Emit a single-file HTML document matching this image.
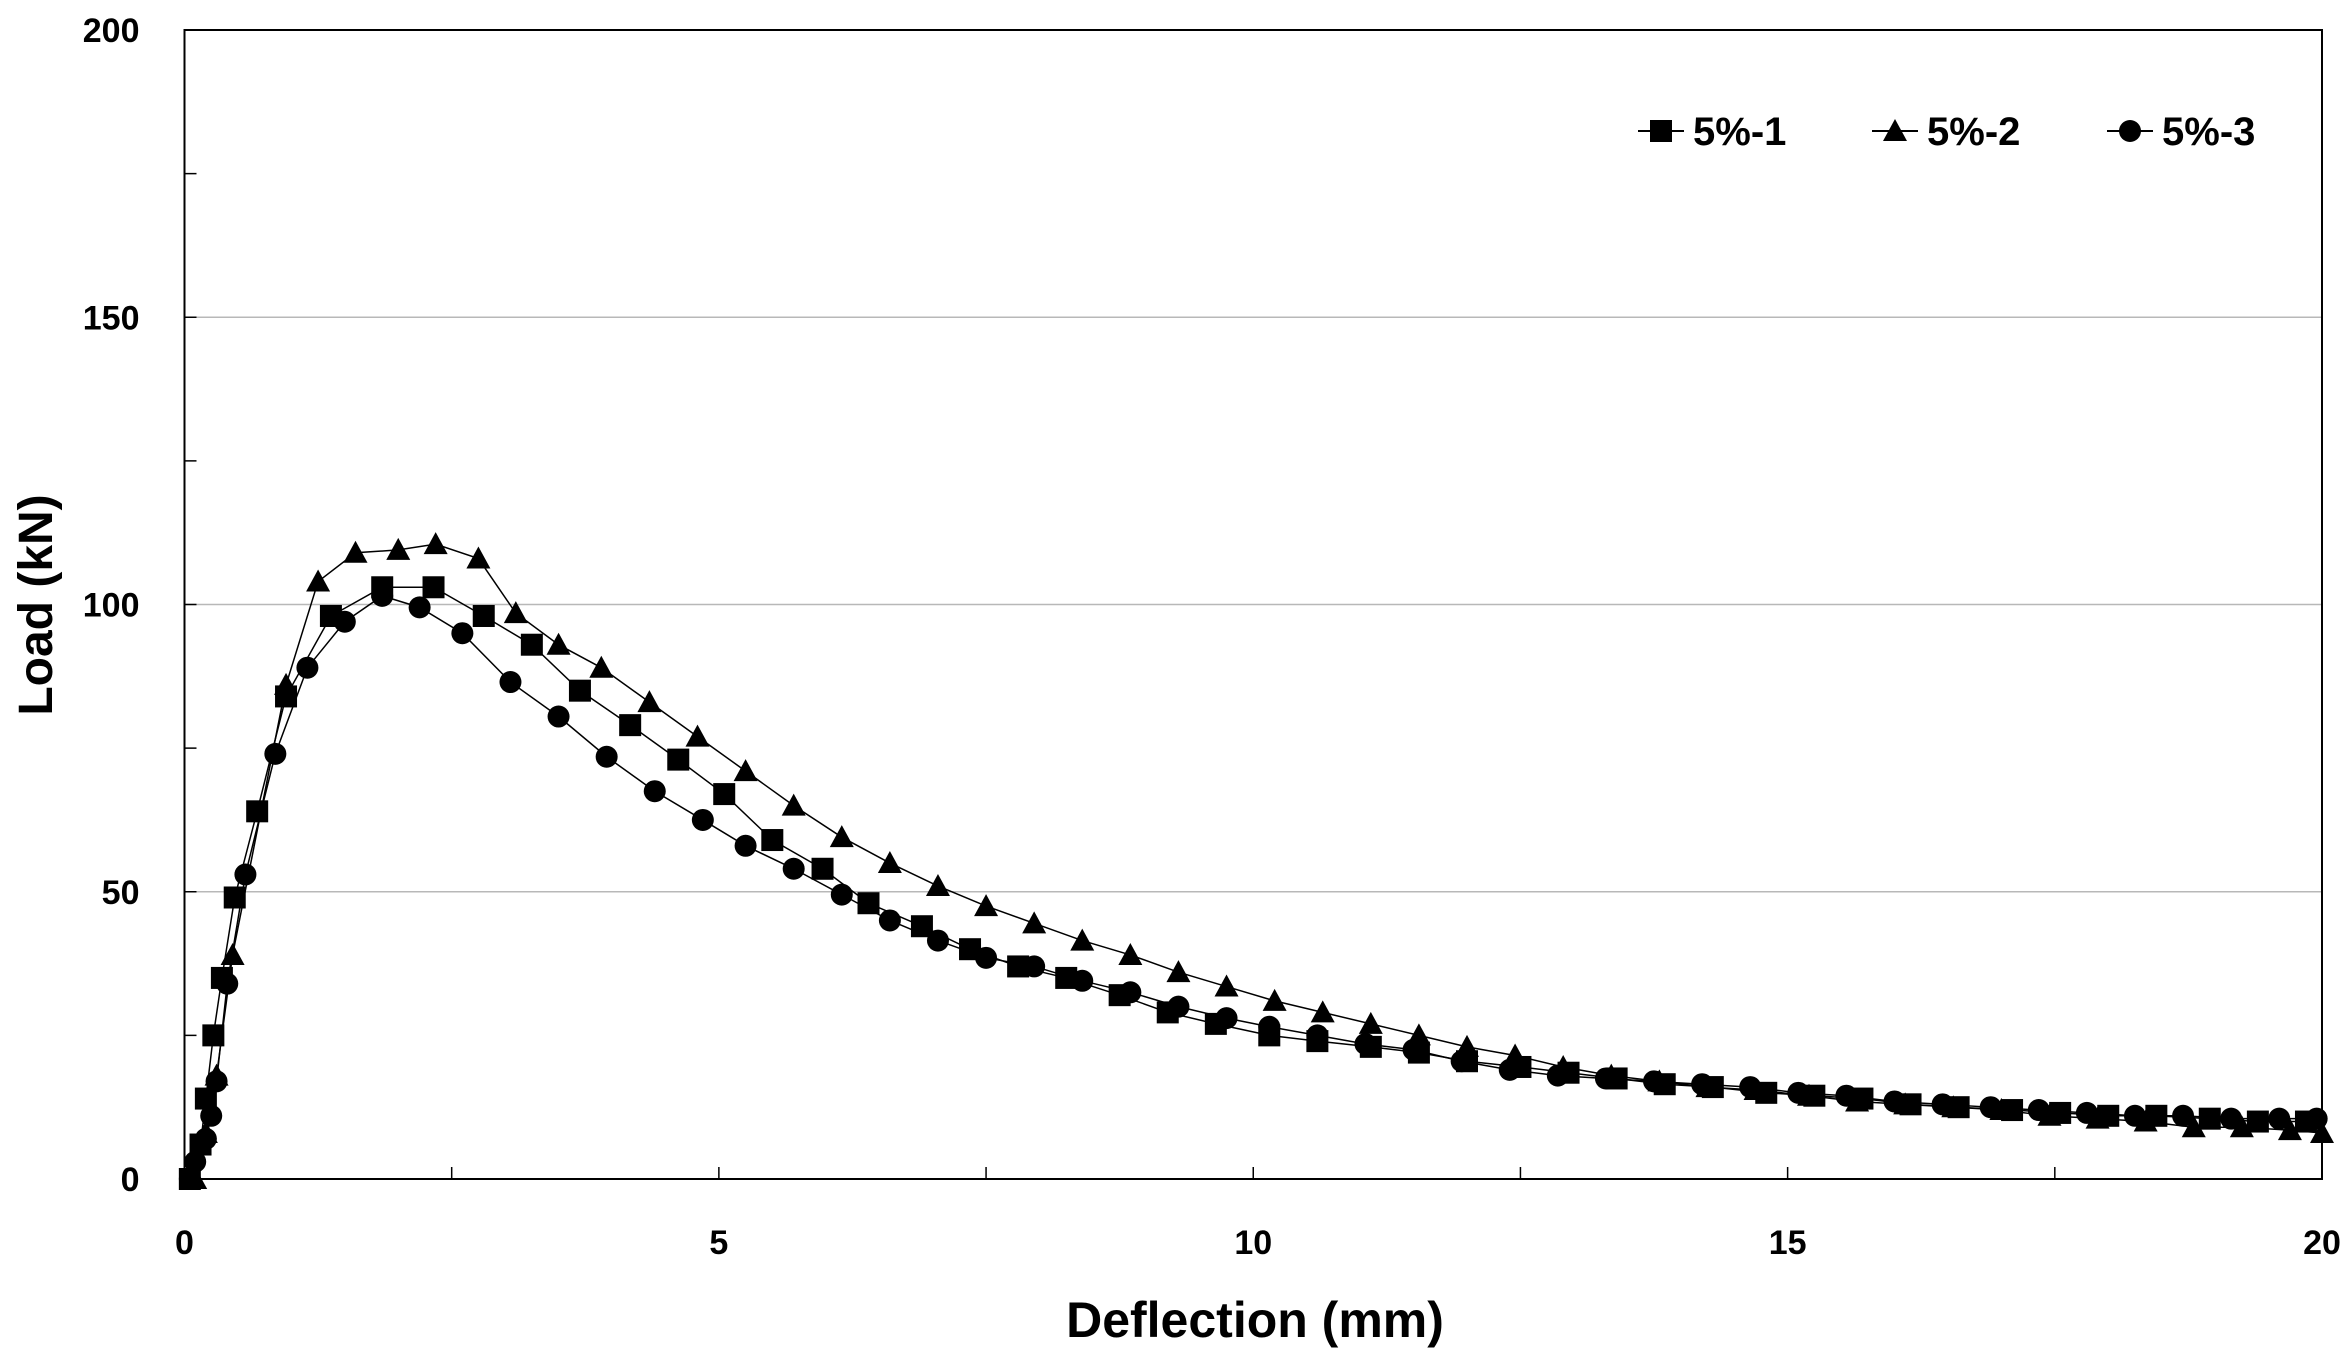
<!DOCTYPE html>
<html><head><meta charset="utf-8"><style>
html,body{margin:0;padding:0;background:#fff;}
svg{display:block;font-family:"Liberation Sans",sans-serif;}
</style></head><body>
<svg id="chart" width="2352" height="1365" viewBox="0 0 2352 1365" xmlns="http://www.w3.org/2000/svg"></svg>
<script>
const xTicks = [0, 5, 10, 15, 20];
const yTicks = [0, 50, 100, 150, 200];
const seriesNames = ["5%-1", "5%-2", "5%-3"];
const s1x = [0.05,0.15,0.2,0.27,0.35,0.47,0.68,0.95,1.37,1.85,2.33,2.8,3.25,3.7,4.17,4.62,5.05,5.5,5.97,6.4,6.9,7.35,7.8,8.25,8.75,9.2,9.65,10.15,10.6,11.1,11.55,12.0,12.5,12.95,13.4,13.85,14.3,14.8,15.25,15.7,16.15,16.6,17.1,17.55,18.0,18.45,18.95,19.4,19.85];
const s1y = [0,6,14,25,35,49,64,84,98,103,103,98,93,85,79,73,67,59,54,48,44,40,37,35,32,29,27,25,24,23,22,20.5,19.5,18.5,17.5,16.5,16,15,14.5,14,13,12.5,12,11.5,11,11,10.5,10,10];
const s2x = [0.1,0.2,0.3,0.45,0.95,1.25,1.6,2.0,2.35,2.75,3.1,3.5,3.9,4.35,4.8,5.25,5.7,6.15,6.6,7.05,7.5,7.95,8.4,8.85,9.3,9.75,10.2,10.65,11.1,11.55,12.0,12.45,12.9,13.35,13.8,14.25,14.7,15.2,15.65,16.1,16.55,17.0,17.45,17.9,18.35,18.8,19.25,19.7,20.0];
const s2y = [0,8,18,39,86,104,109,109.5,110.5,108,98.5,93,89,83,77,71,65,59.5,55,51,47.5,44.5,41.5,39,36,33.5,31,29,27,25,23,21.5,19.5,18,17,16,15.5,14.5,13.5,13,12.5,12,11,10.5,10,9,9,8.5,8];
const s3x = [0.05,0.1,0.2,0.25,0.3,0.4,0.57,0.85,1.15,1.5,1.85,2.2,2.6,3.05,3.5,3.95,4.4,4.85,5.25,5.7,6.15,6.6,7.05,7.5,7.95,8.4,8.85,9.3,9.75,10.15,10.6,11.05,11.5,11.95,12.4,12.85,13.3,13.75,14.2,14.65,15.1,15.55,16.0,16.45,16.9,17.35,17.8,18.25,18.7,19.15,19.6,19.95];
const s3y = [0,3,7,11,17,34,53,74,89,97,101.5,99.5,95,86.5,80.5,73.5,67.5,62.5,58,54,49.5,45,41.5,38.5,37,34.5,32.5,30,28,26.5,25,23.5,22.5,20.5,19,18,17.5,17,16.5,16,15,14.5,13.5,13,12.5,12,11.5,11,11,10.5,10.5,10.5];

const NS="http://www.w3.org/2000/svg";
const svg=document.getElementById('chart');
const L=184.5,R=2322,T=30,B=1179;
const sx=v=>L+(v-0)/(20-0)*(R-L);
const sy=v=>B-(v-0)/(200-0)*(B-T);
function mk(tag,attrs,parent){const e=document.createElementNS(NS,tag);for(const k in attrs)e.setAttribute(k,attrs[k]);(parent||svg).appendChild(e);return e;}

// gridlines
[50,100,150].forEach(v=>{
  const g=mk('line',{x1:L,x2:R,y1:sy(v),y2:sy(v),stroke:'#b8b8b8','stroke-width':1.5});
  
  
});
// minor y ticks
[25,75,125,175,50,100,150].forEach(v=>{
  const t=mk('line',{x1:L,x2:L+12,y1:sy(v),y2:sy(v),stroke:'#000','stroke-width':1.5});
  
  
});
[2.5,5,7.5,10,12.5,15,17.5].forEach(v=>{
  const t=mk('line',{x1:sx(v),x2:sx(v),y1:B,y2:B-12,stroke:'#000','stroke-width':1.5});
  
  
});
const frame=mk('rect',{x:L,y:T,width:R-L,height:B-T,fill:'none',stroke:'#000','stroke-width':2});



yTicks.forEach(v=>{
  const t=mk('text',{x:L-45,y:sy(v)+12,'text-anchor':'end','font-size':34,'font-weight':'bold'});
  t.textContent=v;
  
  
});
xTicks.forEach(v=>{
  const t=mk('text',{x:sx(v),y:1254,'text-anchor':'middle','font-size':34,'font-weight':'bold'});
  t.textContent=v;
  
  
});
const xt=mk('text',{x:1255,y:1337,'text-anchor':'middle','font-size':50,'font-weight':'bold','font-family':'"Liberation Sans Narrow","Liberation Sans",sans-serif'});
xt.textContent='Deflection (mm)';


const yt=mk('text',{x:52,y:605,'text-anchor':'middle','font-size':48,'font-weight':'bold',transform:'rotate(-90 52 605)'});
yt.textContent='Load (kN)';



function marker(type,x,y,parent){
  let m;
  if(type===0) m=mk('rect',{x:x-11,y:y-11,width:22,height:22,fill:'#000'},parent);
  else if(type===1) m=mk('polygon',{points:`${x},${y-12} ${x-12},${y+10} ${x+12},${y+10}`,fill:'#000'},parent);
  else m=mk('ellipse',{cx:x,cy:y,rx:11,ry:11,fill:'#000'},parent);
  return m;
}
const all=[[s1x,s1y],[s2x,s2y],[s3x,s3y]];
all.forEach((s,i)=>{
  const g=mk('g',{});
  
  
  const pts=s[0].map((x,j)=>sx(x)+','+sy(s[1][j])).join(' ');
  const pl=mk('polyline',{points:pts,fill:'none',stroke:'#000','stroke-width':1.5},g);
  
  
  s[0].forEach((x,j)=>{
    const m=marker(i,sx(x),sy(s[1][j]),g);
    
    
  });
});
// legend
const lx=[1638,1872,2107];
lx.forEach((x,i)=>{
  const g=mk('g',{});
  
  
  mk('line',{x1:x,x2:x+46,y1:131,y2:131,stroke:'#000','stroke-width':2},g);
  marker(i,x+23,131,g);
  const t=mk('text',{x:x+55,y:145,'font-size':40,'font-weight':'bold','font-family':'"Liberation Sans Narrow","Liberation Sans",sans-serif'},g);
  t.textContent=seriesNames[i];
});
</script>
</body></html>
